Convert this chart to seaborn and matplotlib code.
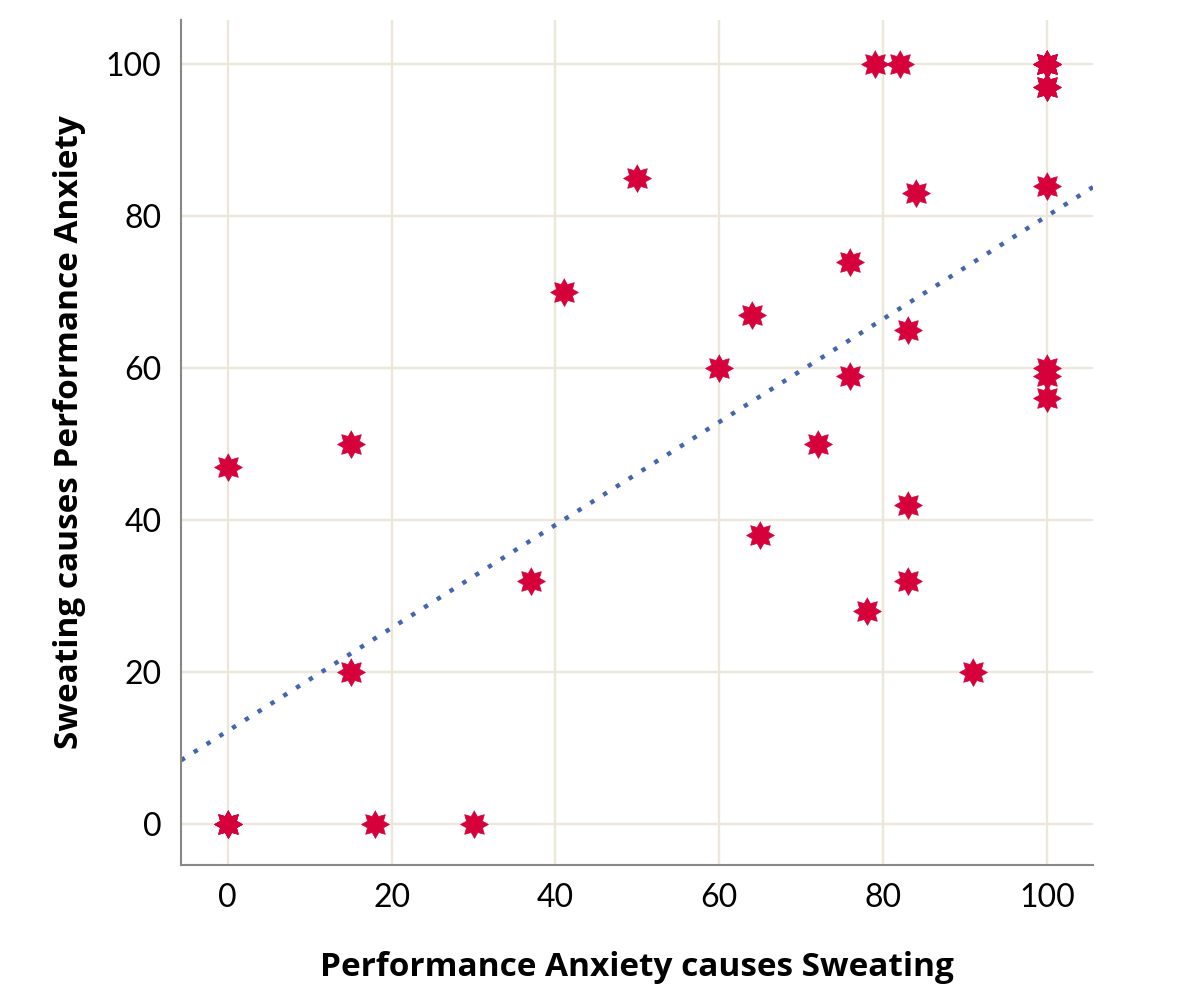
import numpy as np
import pandas as pd
import matplotlib
matplotlib.use("Agg")
import matplotlib.pyplot as plt
import seaborn as sns

# Some points overlap exactly (e.g. several at 0,0 and 100,100)
anx_causes_sweat = [0, 0, 0, 0, 15, 15, 18, 30, 37, 41, 50, 60, 64, 65, 72, 76, 76, 78, 79, 82,
                    83, 84, 83, 83, 91, 100, 100, 100, 100, 100, 100, 100, 100, 100, 100]
sweat_causes_anx = [0, 0, 0, 47, 50, 20, 0, 0, 32, 70, 85, 60, 67, 38, 50, 74, 59, 28, 100, 100,
                    65, 83, 42, 32, 20, 100, 100, 100, 100, 97, 97, 84, 60, 59, 56]
ticks = [0, 20, 40, 60, 80, 100]

df = pd.DataFrame({"x": anx_causes_sweat, "y": sweat_causes_anx})

sns.set_style("white")
plt.rcParams['font.family'] = ['Lato', 'DejaVu Sans']

# gear-like 8-point star marker
ang = np.linspace(0, 2 * np.pi, 17)[:-1] + np.pi / 2
rad = np.where(np.arange(16) % 2 == 0, 1.0, 0.62)
star = list(zip(rad * np.cos(ang), rad * np.sin(ang)))

fig = plt.figure(figsize=(11.84, 9.85), dpi=100)
ax = fig.add_axes([0.1529, 0.1218, 0.7702, 0.8579])
ax.set_xlim(-5.7, 105.6)
ax.set_ylim(-5.4, 105.8)

ax.set_axisbelow(True)
ax.grid(True, color="#ebe7da", linewidth=1.7)

sns.regplot(data=df, x="x", y="y", scatter=False, ci=None, truncate=False, ax=ax,
            line_kws=dict(color="#4665b0", linestyle=(0, (1, 2.4)), linewidth=3.2))
sns.scatterplot(data=df, x="x", y="y", ax=ax, marker=star, s=400,
                color="#d6003b", edgecolor="#d6003b", linewidth=0.5, zorder=5)

ax.set_xlim(-5.7, 105.6)
ax.set_ylim(-5.4, 105.8)
ax.set_xticks(ticks)
ax.set_yticks(ticks)
ax.tick_params(axis="both", length=0, labelsize=23, colors="#000000")
ax.tick_params(axis="y", pad=14)
ax.tick_params(axis="x", pad=13)
for s in ["top", "right"]:
    ax.spines[s].set_visible(False)
for s in ["left", "bottom"]:
    ax.spines[s].set_color("#888888")
    ax.spines[s].set_linewidth(1.5)

ax.set_xlabel("Performance Anxiety causes Sweating", fontsize=24, fontweight="bold",
              family=["Open Sans", "DejaVu Sans"], color="#000000")
ax.set_ylabel("Sweating causes Performance Anxiety", fontsize=24, fontweight="bold",
              family=["Open Sans", "DejaVu Sans"], color="#000000")
ax.xaxis.set_label_coords(0.5, -0.1218)
ax.xaxis.label.set_va("center")
ax.yaxis.set_label_coords(-0.1218, 0.512)
ax.yaxis.label.set_va("center")

fig.savefig("out.png", dpi=100)
